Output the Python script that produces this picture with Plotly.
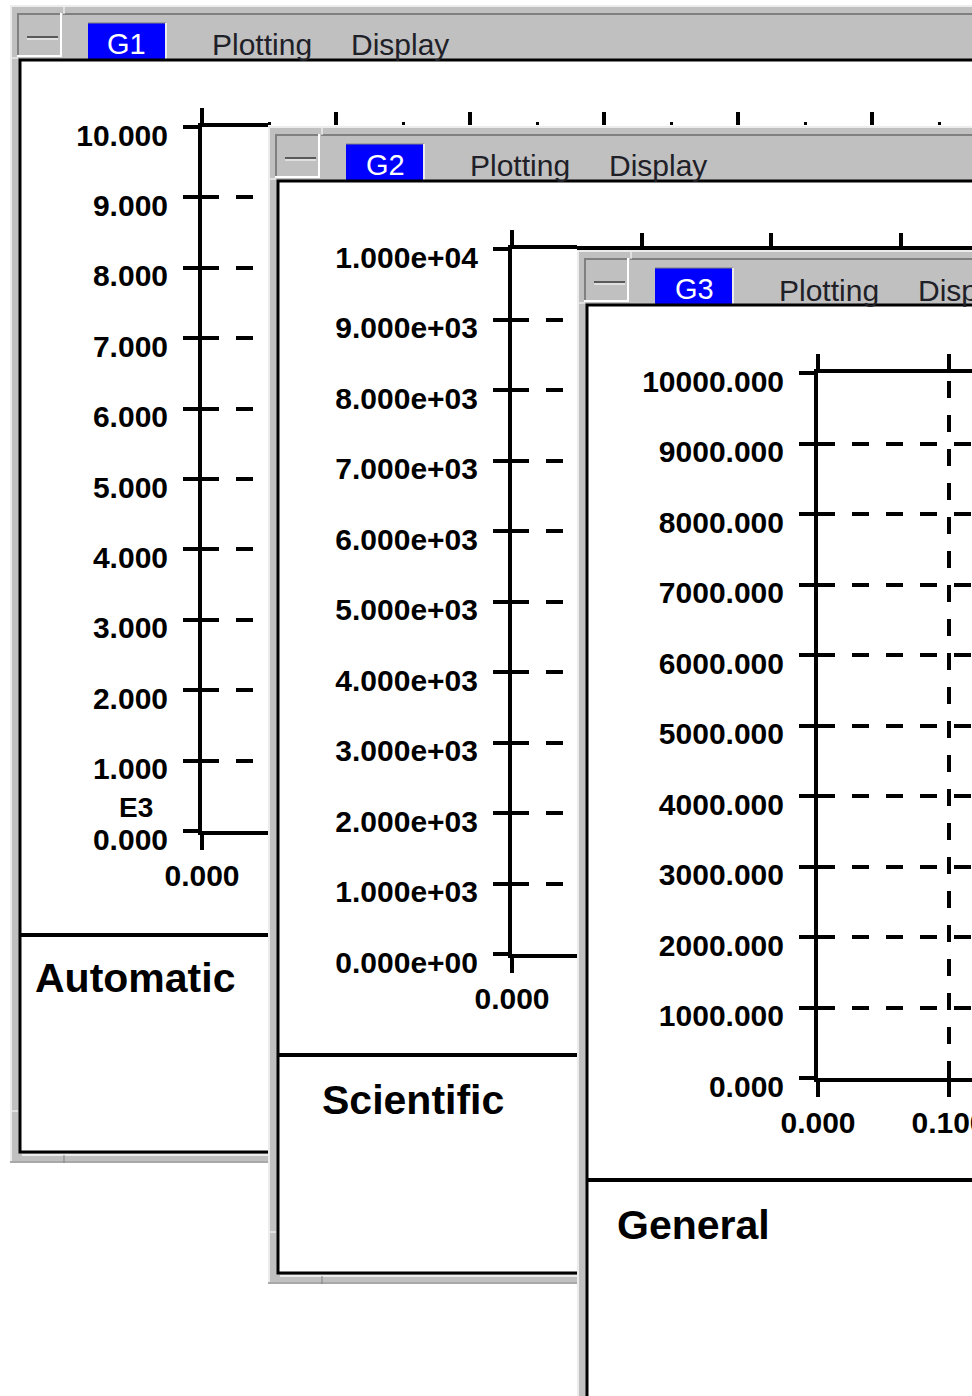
import plotly.graph_objects as go

W, H = 972, 1396

# ---------------- data ----------------
Y_TICK_VALUES = [0, 1000, 2000, 3000, 4000, 5000, 6000, 7000, 8000, 9000, 10000]
X_TICK_VALUES = [0.0, 0.1, 0.2, 0.3, 0.4, 0.5, 0.6]
X_TICK_LABELS = ["0.000", "0.100", "0.200", "0.300", "0.400", "0.500", "0.600"]
AUTOMATIC_Y_LABELS = ["0.000", "1.000", "2.000", "3.000", "4.000", "5.000",
                      "6.000", "7.000", "8.000", "9.000", "10.000"]
AUTOMATIC_EXPONENT = "E3"
SCIENTIFIC_Y_LABELS = ["0.000e+00", "1.000e+03", "2.000e+03", "3.000e+03", "4.000e+03",
                       "5.000e+03", "6.000e+03", "7.000e+03", "8.000e+03", "9.000e+03",
                       "1.000e+04"]
GENERAL_Y_LABELS = ["0.000", "1000.000", "2000.000", "3000.000", "4000.000", "5000.000",
                    "6000.000", "7000.000", "8000.000", "9000.000", "10000.000"]
WINDOW_NAMES = ["G1", "G2", "G3"]
FORMAT_NAMES = ["Automatic", "Scientific", "General"]
MENU_ITEMS = ["Plotting", "Display"]
Y_LABEL_SETS = [AUTOMATIC_Y_LABELS, SCIENTIFIC_Y_LABELS, GENERAL_Y_LABELS]

# ---------------- layout geometry (pixels) ----------------
WINDOWS = [
    dict(L=10, T=5, B=1163, CB=1152, DIV=935, title_x=33, title_y=978,
         plot=dict(x0=202, top=127, bottom=831, right=268, ppu=1340)),
    dict(L=268, T=126, B=1284, CB=1273, DIV=1055, title_x=320, title_y=1100,
         plot=dict(x0=512, top=249, bottom=954, right=577, ppu=1295)),
    dict(L=577, T=250, B=H + 40, CB=H + 30, DIV=1180, title_x=615, title_y=1225,
         plot=dict(x0=818, top=373, bottom=1078, right=W, ppu=1310)),
]

GRAY = "#c0c0c0"
LIGHT = "#ececec"
WHITE = "#ffffff"
DARK = "#808080"
BLUE = "#0000ff"
FONT = "Liberation Sans, Arial, sans-serif"


def px(x):
    return x / W


def py(y):
    return 1 - y / H


shapes = []
annotations = []


def rect(x0, y0, x1, y1, fill, line_color=None, lw=0):
    shapes.append(dict(type="rect", xref="paper", yref="paper", layer="below",
                       x0=px(x0), x1=px(x1), y0=py(y1), y1=py(y0),
                       fillcolor=fill, line=dict(width=lw, color=line_color or fill)))


def seg(x0, y0, x1, y1, color, lw):
    shapes.append(dict(type="line", xref="paper", yref="paper", layer="below",
                       x0=px(x0), x1=px(x1), y0=py(y0), y1=py(y1),
                       line=dict(width=lw, color=color)))


def text(x, y, s, size, color="black", bold=False, xanchor="center"):
    annotations.append(dict(xref="paper", yref="paper", x=px(x), y=py(y), text=s,
                            showarrow=False, xanchor=xanchor, yanchor="middle",
                            font=dict(family=FONT, size=size, color=color,
                                      weight="bold" if bold else "normal")))


def draw_window(i, win):
    L, T, B, CB, DIV = win["L"], win["T"], win["B"], win["CB"], win["DIV"]
    R = W + 40
    rect(L, T, R, B, GRAY)
    seg(L, T + 1, R, T + 1, LIGHT, 2)
    seg(L + 1, T, L + 1, B, LIGHT, 2)
    if B < H:
        seg(L, B - 1, R, B - 1, "#a8a8a8", 2)
    # title bar separators
    seg(L + 53, T + 9, R, T + 9, DARK, 2)
    seg(L + 54, T + 2, L + 54, T + 9, WHITE, 1)
    seg(L + 2, T + 53, L + 8, T + 53, WHITE, 1)
    # system menu button
    rect(L + 7, T + 8, L + 52, T + 52, GRAY)
    seg(L + 7, T + 9, L + 52, T + 9, DARK, 2)
    seg(L + 8, T + 8, L + 8, T + 52, DARK, 2)
    seg(L + 7, T + 51, L + 52, T + 51, WHITE, 2)
    seg(L + 51, T + 8, L + 51, T + 52, WHITE, 2)
    seg(L + 17, T + 32, L + 48, T + 32, "#5a5a5a", 2)
    seg(L + 17, T + 34, L + 48, T + 34, WHITE, 1)
    # tab
    rect(L + 78, T + 18, L + 156, T + 55, BLUE)
    seg(L + 78, T + 18, L + 156, T + 18, DARK, 1)
    seg(L + 156, T + 18, L + 156, T + 55, LIGHT, 2)
    text(L + 117, T + 39, WINDOW_NAMES[i], 29, color="white")
    # menu items
    text(L + 252, T + 40, MENU_ITEMS[0], 30, color="#202028")
    text(L + 390, T + 40, MENU_ITEMS[1], 30, color="#202028")
    # content area
    rect(L + 10, T + 55, R, CB, WHITE, "black", 3)
    seg(L + 10, DIV, R, DIV, "black", 4)
    # bottom strip details
    if B < H:
        seg(L + 12, CB + 3, R, CB + 3, LIGHT, 2)
        seg(L + 54, CB + 3, L + 54, B, DARK, 1)
        seg(L + 2, B - 52, L + 8, B - 52, WHITE, 1)
    text(win["title_x"], win["title_y"], FORMAT_NAMES[i], 41, bold=True, xanchor="left")


for i, win in enumerate(WINDOWS):
    draw_window(i, win)


def vertical_dash(h):
    r = h % 34
    if r <= 17:
        return f"{r}px,17px,{17 - r}px,0px"
    return f"0px,{r - 17}px,17px,{34 - r}px"


TICK_FONT = dict(family=FONT, size=30, color="black", weight="bold")

fig = go.Figure()
layout_axes = {}
for i, win in enumerate(WINDOWS):
    n = "" if i == 0 else str(i + 1)
    p = win["plot"]
    fig.add_trace(go.Scatter(x=[], y=[], xaxis="x" + n, yaxis="y" + n,
                             showlegend=False, hoverinfo="skip"))
    h = p["bottom"] - p["top"]
    layout_axes["xaxis" + n] = dict(
        domain=[px(p["x0"]), min(px(p["right"]), 1)],
        range=[0, (p["right"] - p["x0"]) / p["ppu"]],
        anchor="y" + n, tickmode="array", tickvals=X_TICK_VALUES, ticktext=X_TICK_LABELS,
        showline=True, linecolor="black", linewidth=4, mirror="ticks",
        ticks="outside", ticklen=15, tickwidth=4, tickcolor="black",
        showgrid=True, gridcolor="black", gridwidth=4, griddash=vertical_dash(h),
        zeroline=False, tickfont=TICK_FONT, ticklabelstandoff=0,
        ticklabeloverflow="allow", fixedrange=True, automargin=False,
    )
    layout_axes["yaxis" + n] = dict(
        domain=[py(p["bottom"]), py(p["top"])], range=[0, 10000],
        anchor="x" + n, tickmode="array", tickvals=Y_TICK_VALUES, ticktext=Y_LABEL_SETS[i],
        showline=True, linecolor="black", linewidth=4, mirror=False,
        ticks="outside", ticklen=15, tickwidth=4, tickcolor="black",
        showgrid=True, gridcolor="black", gridwidth=4, griddash="17px,17px",
        zeroline=False, tickfont=TICK_FONT, ticklabelstandoff=9, ticklabelshift=8,
        ticklabeloverflow="allow", fixedrange=True, automargin=False,
    )

# tick marks of the hidden plot tops that stick out above the next window
minor_vals = [(a + b) / 2 for a, b in zip(X_TICK_VALUES[:-1], X_TICK_VALUES[1:])]
extensions = [(0, 125, False, 13), (1, 248, True, 13)]
for k, (i, ypos, line_on, tlen) in enumerate(extensions):
    idx = str(4 + k)
    p = WINDOWS[i]["plot"]
    edge = WINDOWS[i + 1]["L"]
    fig.add_trace(go.Scatter(x=[], y=[], xaxis="x" + idx, yaxis="y" + idx,
                             showlegend=False, hoverinfo="skip"))
    ax = dict(
        domain=[px(edge), 1],
        range=[(edge - p["x0"]) / p["ppu"], (W - p["x0"]) / p["ppu"]],
        anchor="free", position=py(ypos), side="top",
        tickmode="array", tickvals=X_TICK_VALUES, ticks="outside", ticklen=tlen,
        tickwidth=4, tickcolor="black", showticklabels=False, showgrid=False,
        zeroline=False, showline=line_on, linecolor="black", linewidth=4,
        fixedrange=True, automargin=False,
    )
    if i == 0:
        ax["minor"] = dict(ticks="outside", ticklen=3, tickwidth=3, tickcolor="black",
                           tickmode="array", tickvals=minor_vals, showgrid=False)
    layout_axes["xaxis" + idx] = ax
    layout_axes["yaxis" + idx] = dict(visible=False, domain=[0, 1], range=[0, 1],
                                      anchor="x" + idx, fixedrange=True)

# "E3" multiplier of the automatic format
text(136, 807, AUTOMATIC_EXPONENT, 28, bold=True)

fig.update_layout(
    width=W, height=H, autosize=False,
    margin=dict(l=0, r=0, t=0, b=0, pad=0, autoexpand=False),
    paper_bgcolor="white", plot_bgcolor="rgba(0,0,0,0)",
    showlegend=False, hovermode=False, dragmode=False,
    shapes=shapes, annotations=annotations,
    **layout_axes,
)

fig.write_html(
    "out.html",
    config=dict(displayModeBar=False, staticPlot=True),
    post_script="document.body.style.margin='0px';"
                "document.documentElement.style.overflow='hidden';",
)
